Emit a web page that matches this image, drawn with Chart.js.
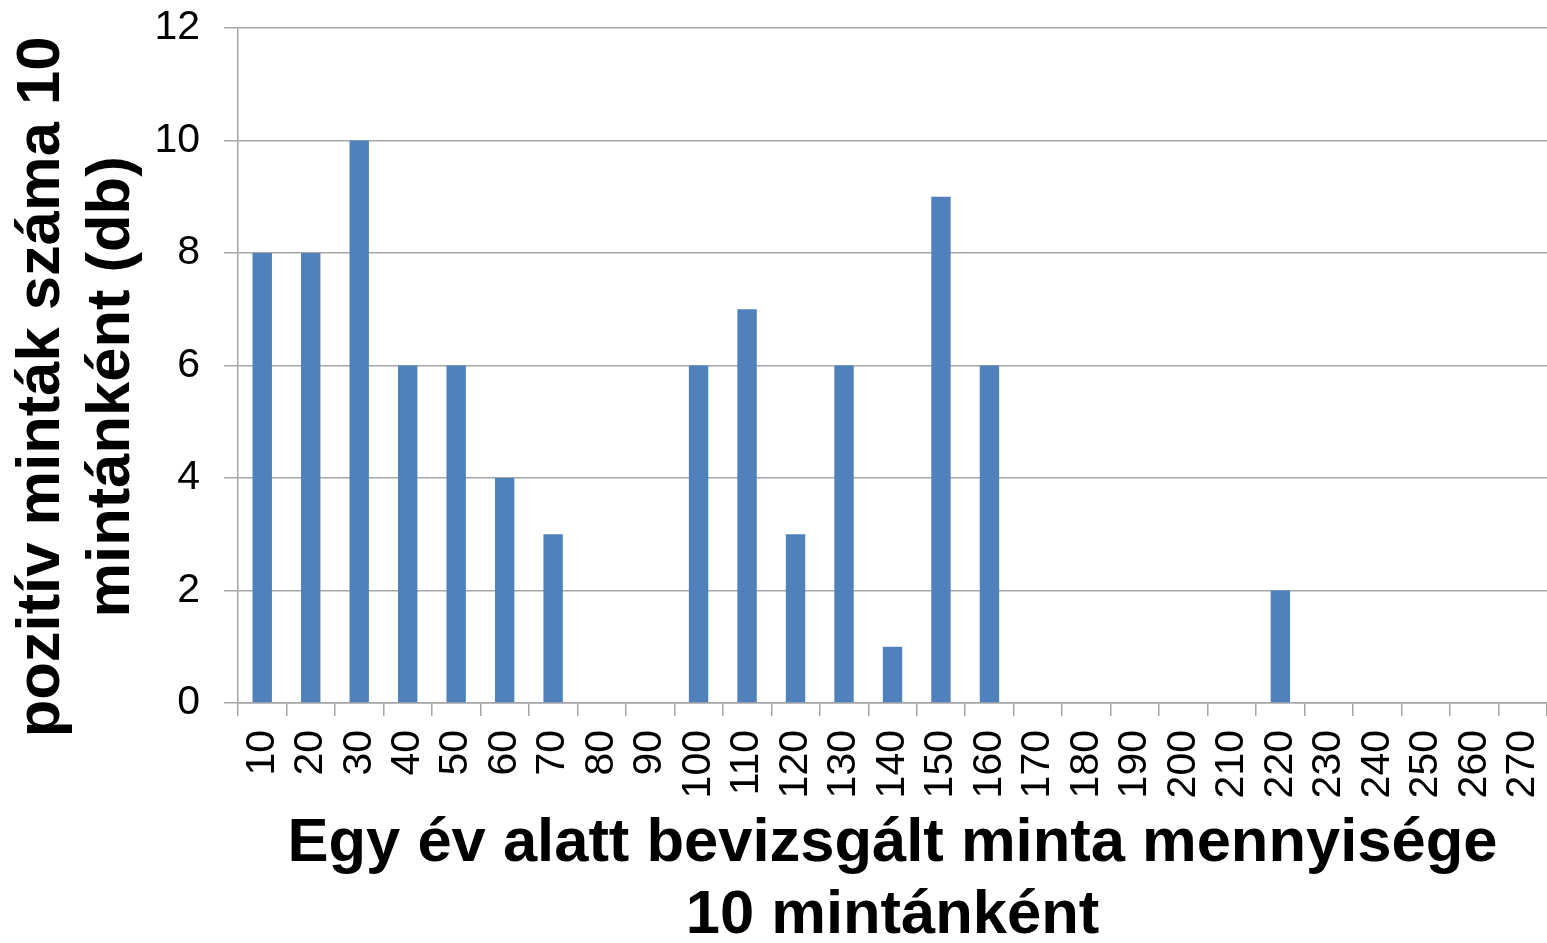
<!DOCTYPE html>
<html>
<head>
<meta charset="utf-8">
<script src="https://cdn.jsdelivr.net/npm/chart.js@4"></script>
<style>
  html, body { margin: 0; padding: 0; background: #fff; }
  #chart { display: block; }
</style>
</head>
<body>
<canvas id="chart" width="1547" height="943"></canvas>
<script>
// categories: sample amount per year, in steps of 10
const categories = [
    "10", "20", "30", "40", "50", "60", "70", "80", "90", "100",
    "110", "120", "130", "140", "150", "160", "170", "180", "190", "200",
    "210", "220", "230", "240", "250", "260", "270",
];

// positive samples per 10 samples (db)
const positives = [
    8, 8, 10, 6, 6, 4, 3, 0, 0, 6,
    7, 3, 6, 1, 9, 6, 0, 0, 0, 0,
    0, 2, 0, 0, 0, 0, 0,
];

const yTicks = [0, 2, 4, 6, 8, 10, 12];

const xTitle = ["Egy év alatt bevizsgált minta mennyisége", "10 mintánként"];
const yTitle = ["pozitív minták száma 10", "mintánként (db)"];

const FONT = '"Liberation Sans", Arial, sans-serif';
const GRID = "#a6a6a6";

// y title drawn by hand so it can sit a bit lower than the scale centre
const yTitlePlugin = {
    id: "yTitle",
    afterDraw(chart) {
        const ctx = chart.ctx;
        ctx.save();
        ctx.translate(42, 387);
        ctx.rotate(-Math.PI / 2);
        ctx.font = `bold 61.5px ${FONT}`;
        ctx.fillStyle = "#000";
        ctx.textAlign = "center";
        ctx.textBaseline = "middle";
        yTitle.forEach((line, i) => ctx.fillText(line, 0, i * 70));
        ctx.restore();
    },
};

new Chart(document.getElementById("chart").getContext("2d"), {
    type: "bar",
    data: {
        labels: categories,
        datasets: [
            {
                data: positives,
                backgroundColor: "#4f81bd",
                borderWidth: 0,
                barPercentage: 0.4,
                categoryPercentage: 1,
            },
        ],
    },
    options: {
        responsive: false,
        animation: false,
        devicePixelRatio: 1,
        layout: { padding: { top: 28, right: 0, bottom: 0, left: 0 } },
        plugins: {
            legend: { display: false },
            tooltip: { enabled: false },
        },
        scales: {
            x: {
                grid: {
                    drawOnChartArea: false,
                    drawTicks: true,
                    tickLength: 13,
                    color: GRID,
                    lineWidth: 1.5,
                    offset: true,
                },
                border: { color: GRID, width: 1.5 },
                ticks: {
                    autoSkip: false,
                    minRotation: 90,
                    maxRotation: 90,
                    padding: 14,
                    color: "#000",
                    font: { family: FONT, size: 41 },
                },
                title: {
                    display: true,
                    text: xTitle,
                    color: "#000",
                    font: { family: FONT, size: 61.5, weight: "bold", lineHeight: 1.165 },
                    padding: { top: 0, bottom: -9 },
                },
                afterFit(scale) {
                    scale.height = 240;
                    scale.paddingLeft = 0;
                    scale.paddingRight = 0;
                },
            },
            y: {
                min: 0,
                max: 12,
                afterBuildTicks(scale) {
                    scale.ticks = yTicks.map((v) => ({ value: v }));
                },
                grid: {
                    color: GRID,
                    lineWidth: 1.5,
                    tickLength: 14,
                },
                border: { color: GRID, width: 1.5 },
                ticks: {
                    padding: 24,
                    color: "#000",
                    font: { family: FONT, size: 41 },
                },
                afterFit(scale) {
                    scale.width = 238;
                    scale.paddingTop = 0;
                    scale.paddingBottom = 0;
                },
            },
        },
    },
    plugins: [yTitlePlugin],
});
</script>
</body>
</html>
